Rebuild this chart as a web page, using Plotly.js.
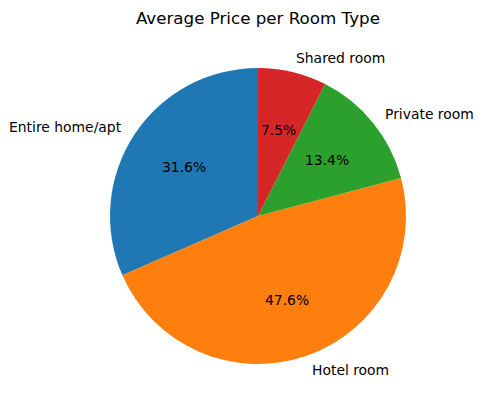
<!DOCTYPE html>
<html>
<head>
<meta charset="utf-8">
<script src="https://cdn.plot.ly/plotly-3.0.1.min.js"></script>
<style>html,body{margin:0;padding:0;background:#fff;}#chart{width:483px;height:411px;}</style>
</head>
<body>
<div id="chart"></div>
<script>
const roomTypes = ["Entire home/apt", "Hotel room", "Private room", "Shared room"];
const shares = [31.6, 47.6, 13.4, 7.5];
const sliceColors = ["#1f77b4", "#ff7f0e", "#2ca02c", "#d62728"];

const font = "DejaVu Sans, sans-serif";
const total = shares.reduce((a, b) => a + b, 0);
const annotations = [];
let cum = 0;
shares.forEach((v, i) => {
  const mid = (90 + 360 * (cum + v / 2) / total) * Math.PI / 180;
  cum += v;
  const c = Math.cos(mid), s = Math.sin(mid);
  annotations.push({
    x: 0.5 + 0.55 * c, y: 0.5 + 0.55 * s, xref: "paper", yref: "paper",
    text: roomTypes[i], showarrow: false, borderpad: 0, borderwidth: 0,
    xanchor: c >= 0 ? "left" : "right", yanchor: "middle",
    font: {family: font, size: 13.9, color: "#000"}
  });
  annotations.push({
    x: 0.5 + 0.3 * c, y: 0.5 + 0.3 * s, xref: "paper", yref: "paper",
    text: (100 * v / total).toFixed(1) + "%", showarrow: false, borderpad: 0, borderwidth: 0,
    xanchor: "center", yanchor: "middle",
    font: {family: font, size: 13.9, color: "#000"}
  });
});

const data = [{
  type: "pie",
  labels: roomTypes,
  values: shares,
  sort: false,
  direction: "counterclockwise",
  rotation: -360 * shares[0] / total,
  textinfo: "none",
  hoverinfo: "label+percent",
  marker: {colors: sliceColors, line: {width: 0}},
  showlegend: false
}];

const layout = {
  width: 483, height: 411,
  margin: {l: 110, r: 77, t: 68, b: 47},
  paper_bgcolor: "#fff",
  title: {text: "Average Price per Room Type", x: 0.534, xref: "container", xanchor: "center",
          y: 1 - 18 / 411, yref: "container", yanchor: "middle",
          font: {family: font, size: 16.7, color: "#000"}},
  annotations: annotations
};

Plotly.newPlot("chart", data, layout, {displayModeBar: false, staticPlot: true});
</script>
</body>
</html>
